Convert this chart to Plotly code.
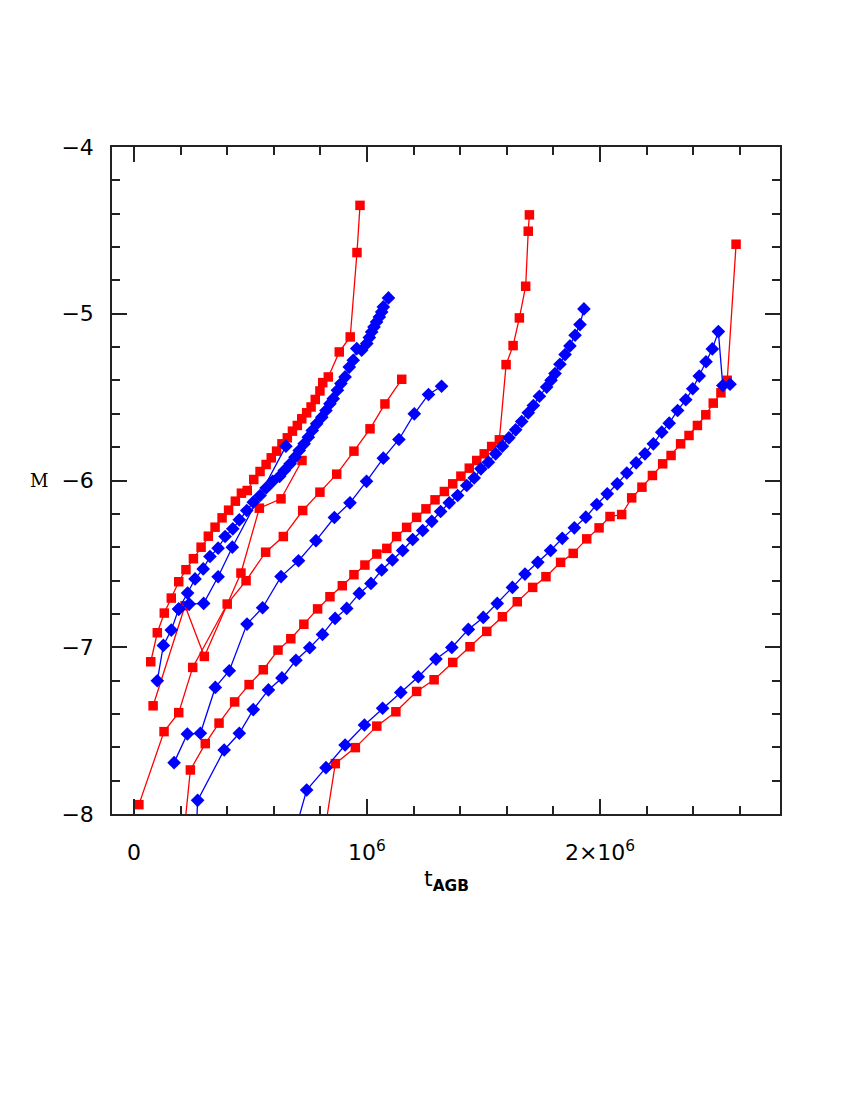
import plotly.graph_objects as go

# t_AGB values in units of 1e6 yr, M values
red_a_t = [0.072, 0.100, 0.130, 0.160, 0.192, 0.223, 0.255, 0.288, 0.319, 0.348,
           0.378, 0.406, 0.435, 0.461, 0.486, 0.514, 0.541, 0.567, 0.589, 0.612,
           0.635, 0.658, 0.680, 0.701, 0.720, 0.741, 0.760, 0.778, 0.798, 0.810,
           0.834, 0.881, 0.928, 0.957, 0.970]
red_a_m = [-7.087, -6.913, -6.795, -6.705, -6.607, -6.535, -6.469, -6.400, -6.334, -6.280,
           -6.224, -6.178, -6.124, -6.076, -6.060, -5.994, -5.946, -5.904, -5.864, -5.824,
           -5.780, -5.744, -5.704, -5.670, -5.630, -5.594, -5.559, -5.514, -5.463, -5.413,
           -5.379, -5.229, -5.139, -4.633, -4.350]

red_b_t = [0.082, 0.219, 0.302, 0.459, 0.538, 0.631, 0.721]
red_b_m = [-7.351, -6.751, -7.055, -6.555, -6.166, -6.110, -5.880]

red_c_t = [0.021, 0.129, 0.192, 0.252, 0.400, 0.481, 0.565, 0.641, 0.724, 0.798,
           0.870, 0.944, 1.013, 1.077, 1.149]
red_c_m = [-7.944, -7.506, -7.392, -7.121, -6.741, -6.601, -6.430, -6.336, -6.180, -6.070,
           -5.962, -5.824, -5.690, -5.541, -5.393]

red_d_t = [0.212, 0.242, 0.306, 0.365, 0.432, 0.494, 0.555, 0.618, 0.673, 0.729,
           0.788, 0.841, 0.894, 0.944, 0.991, 1.042, 1.085, 1.127, 1.170, 1.213,
           1.253, 1.292, 1.332, 1.368, 1.403, 1.439, 1.471, 1.503, 1.535, 1.568,
           1.597, 1.627, 1.654, 1.681, 1.692, 1.697]
red_d_m = [-8.150, -7.736, -7.578, -7.455, -7.328, -7.224, -7.135, -7.017, -6.949, -6.862,
           -6.770, -6.697, -6.631, -6.565, -6.507, -6.441, -6.407, -6.336, -6.281, -6.221,
           -6.170, -6.116, -6.066, -6.020, -5.974, -5.926, -5.880, -5.840, -5.796, -5.756,
           -5.305, -5.191, -5.025, -4.835, -4.505, -4.407]

red_e_t = [0.802, 0.864, 0.950, 1.042, 1.124, 1.213, 1.288, 1.368, 1.442, 1.514,
           1.581, 1.645, 1.711, 1.768, 1.831, 1.885, 1.943, 1.996, 2.043, 2.093,
           2.136, 2.180, 2.225, 2.269, 2.305, 2.346, 2.382, 2.418, 2.454, 2.486,
           2.519, 2.546, 2.584]
red_e_m = [-8.250, -7.698, -7.602, -7.473, -7.387, -7.265, -7.195, -7.091, -6.997, -6.905,
           -6.817, -6.727, -6.641, -6.577, -6.491, -6.437, -6.350, -6.284, -6.216, -6.204,
           -6.104, -6.040, -5.970, -5.900, -5.850, -5.780, -5.730, -5.670, -5.606, -5.536,
           -5.474, -5.399, -4.583]

blue_a_t = [0.100, 0.126, 0.160, 0.192, 0.230, 0.262, 0.297, 0.326, 0.361, 0.391,
            0.424, 0.452, 0.484, 0.512, 0.541, 0.567, 0.595, 0.625, 0.645, 0.670,
            0.691, 0.709, 0.730, 0.748, 0.765, 0.784, 0.806, 0.824, 0.841, 0.855,
            0.873, 0.888, 0.906, 0.924, 0.941, 0.956, 0.977, 0.999, 1.010, 1.020,
            1.030, 1.041, 1.053, 1.063, 1.070, 1.092]
blue_a_m = [-7.201, -6.989, -6.897, -6.771, -6.675, -6.590, -6.530, -6.456, -6.406, -6.336,
            -6.290, -6.236, -6.180, -6.130, -6.090, -6.045, -6.005, -5.975, -5.940, -5.900,
            -5.860, -5.820, -5.780, -5.740, -5.700, -5.660, -5.620, -5.580, -5.540, -5.509,
            -5.459, -5.419, -5.379, -5.320, -5.279, -5.209, -5.219, -5.179, -5.143, -5.109,
            -5.079, -5.049, -5.019, -4.989, -4.959, -4.905]

blue_b_t = [0.172, 0.229, 0.285, 0.349, 0.409, 0.485, 0.552, 0.631, 0.706, 0.781,
            0.860, 0.927, 0.998, 1.070, 1.137, 1.203, 1.264, 1.320]
blue_b_m = [-7.692, -7.520, -7.516, -7.241, -7.141, -6.861, -6.763, -6.576, -6.481, -6.361,
            -6.222, -6.134, -6.005, -5.866, -5.754, -5.600, -5.484, -5.435]

blue_c_t = [0.265, 0.273, 0.387, 0.452, 0.512, 0.577, 0.635, 0.695, 0.754, 0.809,
            0.863, 0.913, 0.967, 1.017, 1.063, 1.109, 1.153, 1.196, 1.239, 1.278,
            1.316, 1.353, 1.389, 1.428, 1.460, 1.489, 1.521, 1.552, 1.581, 1.609,
            1.638, 1.664, 1.692, 1.714, 1.740, 1.771, 1.790, 1.807, 1.828, 1.850,
            1.871, 1.893, 1.914, 1.931]
blue_c_m = [-8.200, -7.918, -7.616, -7.516, -7.374, -7.256, -7.184, -7.078, -7.003, -6.923,
            -6.827, -6.767, -6.677, -6.617, -6.537, -6.477, -6.420, -6.354, -6.300, -6.245,
            -6.186, -6.134, -6.090, -6.030, -5.985, -5.930, -5.890, -5.840, -5.794, -5.744,
            -5.696, -5.646, -5.594, -5.550, -5.495, -5.440, -5.399, -5.359, -5.303, -5.245,
            -5.193, -5.129, -5.065, -4.971]

blue_d_t = [0.672, 0.741, 0.824, 0.906, 0.989, 1.067, 1.145, 1.220, 1.296, 1.364,
            1.435, 1.499, 1.559, 1.624, 1.678, 1.733, 1.788, 1.838, 1.890, 1.939,
            1.986, 2.031, 2.074, 2.115, 2.155, 2.193, 2.229, 2.265, 2.297, 2.333,
            2.368, 2.398, 2.426, 2.455, 2.482, 2.508, 2.527, 2.558]
blue_d_m = [-8.200, -7.856, -7.722, -7.586, -7.466, -7.366, -7.271, -7.177, -7.071, -7.001,
            -6.893, -6.821, -6.737, -6.641, -6.561, -6.491, -6.420, -6.347, -6.284, -6.220,
            -6.144, -6.080, -6.020, -5.955, -5.894, -5.840, -5.780, -5.710, -5.656, -5.580,
            -5.516, -5.450, -5.374, -5.288, -5.211, -5.107, -5.431, -5.423]

blue_e_t = [0.192, 0.237, 0.299, 0.361, 0.422, 0.652]
blue_e_m = [-6.771, -6.741, -6.737, -6.577, -6.400, -5.794]

x_tick_vals = [0, 1e6, 2e6]
x_tick_text = ['0', '10<sup>6</sup>', '2\u00d710<sup>6</sup>']

RED = '#ff0000'
BLUE = '#0000ff'

red_series = [(red_a_t, red_a_m), (red_b_t, red_b_m), (red_c_t, red_c_m),
              (red_d_t, red_d_m), (red_e_t, red_e_m)]
blue_series = [(blue_a_t, blue_a_m), (blue_e_t, blue_e_m), (blue_b_t, blue_b_m),
               (blue_c_t, blue_c_m), (blue_d_t, blue_d_m)]


def make_trace(t, m, color, symbol, size):
    return go.Scatter(
        x=[v * 1e6 for v in t],
        y=m,
        mode='lines+markers',
        line=dict(color=color, width=1.3),
        marker=dict(color=color, symbol=symbol, size=size, line=dict(width=0)),
        showlegend=False,
        hoverinfo='skip')


fig = go.Figure()
for t, m in red_series:
    fig.add_trace(make_trace(t, m, RED, 'square', 9.5))
for t, m in blue_series:
    fig.add_trace(make_trace(t, m, BLUE, 'diamond', 10.5))

axis_common = dict(
    showline=True,
    linecolor='#222',
    linewidth=1.5,
    mirror='allticks',
    ticks='inside',
    tickcolor='#222',
    tickwidth=1.5,
    ticklen=15,
    showgrid=False,
    zeroline=False,
    tickfont=dict(family='DejaVu Sans', size=22, color='black'),
)

fig.update_xaxes(
    range=[-0.0944e6, 2.7725e6],
    tickmode='array',
    tickvals=x_tick_vals,
    ticktext=x_tick_text,
    ticklabelstandoff=18,
    minor=dict(ticks='inside', dtick=2e5, tick0=0, ticklen=8,
               tickcolor='#222', tickwidth=1.5),
    **axis_common)

fig.update_yaxes(
    range=[-8, -4],
    tick0=-8,
    dtick=1,
    tickformat='d',
    ticklabelstandoff=12,
    minor=dict(ticks='inside', dtick=0.2, tick0=-8, ticklen=8,
               tickcolor='#222', tickwidth=1.5),
    **axis_common)

# the page adds an 8px body offset, so margins are shifted to keep the frame in place
fig.update_layout(
    width=850,
    height=1100,
    margin=dict(l=104, r=78, t=139, b=294),
    plot_bgcolor='white',
    paper_bgcolor='white',
    annotations=[
        dict(text='t<sub><b>AGB</b></sub>', xref='paper', yref='paper',
             x=0.5, y=-0.1, xanchor='center', yanchor='middle', showarrow=False,
             font=dict(family='DejaVu Sans', size=22, color='black')),
        dict(text='M', xref='paper', yref='paper',
             x=-0.11, y=0.5, xanchor='center', yanchor='middle', showarrow=False,
             font=dict(family='DejaVu Serif', size=18, color='black')),
    ])

fig.write_html('out.html')
